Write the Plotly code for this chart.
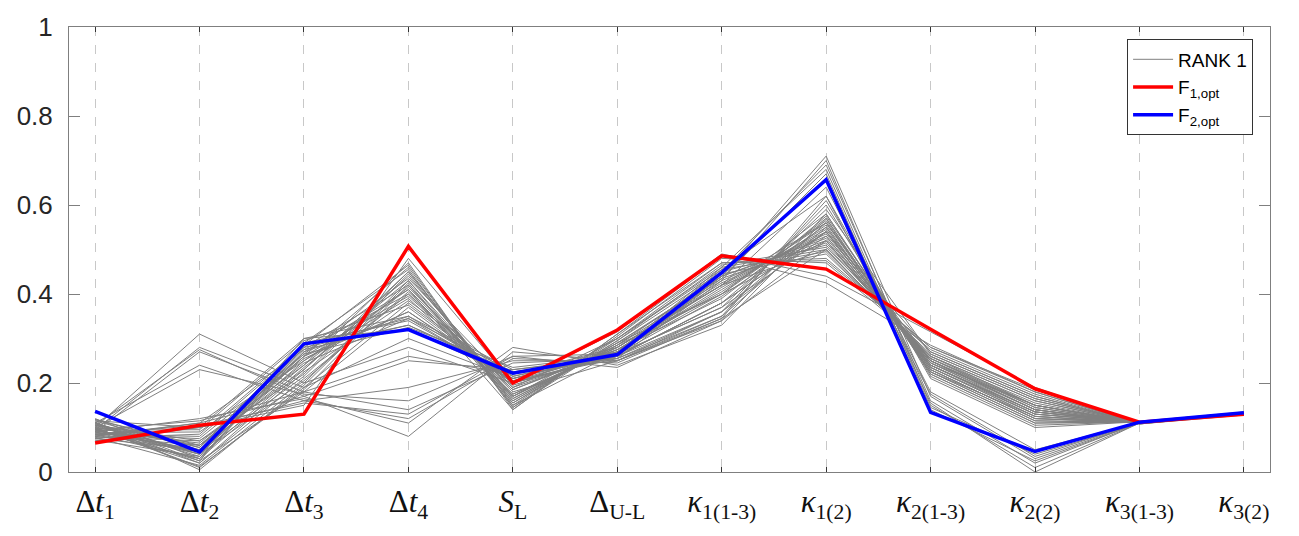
import plotly.graph_objects as go

categories = ["Δ<i>t</i><sub>1</sub>", "Δ<i>t</i><sub>2</sub>", "Δ<i>t</i><sub>3</sub>", "Δ<i>t</i><sub>4</sub>",
              "<i>S</i><sub>L</sub>", "Δ<sub>U-L</sub>", "<i>κ</i><sub>1(1-3)</sub>", "<i>κ</i><sub>1(2)</sub>",
              "<i>κ</i><sub>2(1-3)</sub>", "<i>κ</i><sub>2(2)</sub>", "<i>κ</i><sub>3(1-3)</sub>", "<i>κ</i><sub>3(2)</sub>"]

f1_opt = [0.065, 0.105, 0.130, 0.507, 0.200, 0.319, 0.486, 0.456, 0.321, 0.187, 0.112, 0.130]
f2_opt = [0.136, 0.045, 0.288, 0.320, 0.222, 0.264, 0.448, 0.657, 0.134, 0.046, 0.112, 0.133]

rank1 = [
    [0.080, 0.060, 0.230, 0.440, 0.170, 0.280, 0.420, 0.560, 0.250, 0.140, 0.110, 0.131],
    [0.095, 0.040, 0.260, 0.460, 0.150, 0.270, 0.440, 0.520, 0.240, 0.130, 0.111, 0.130],
    [0.110, 0.020, 0.210, 0.400, 0.190, 0.300, 0.460, 0.500, 0.260, 0.160, 0.109, 0.132],
    [0.085, 0.080, 0.280, 0.420, 0.160, 0.290, 0.400, 0.580, 0.230, 0.120, 0.112, 0.129],
    [0.100, 0.010, 0.190, 0.380, 0.200, 0.260, 0.380, 0.540, 0.270, 0.170, 0.110, 0.133],
    [0.075, 0.050, 0.240, 0.470, 0.140, 0.310, 0.470, 0.480, 0.280, 0.180, 0.108, 0.128],
    [0.090, 0.030, 0.270, 0.410, 0.180, 0.250, 0.360, 0.600, 0.220, 0.110, 0.113, 0.134],
    [0.105, 0.070, 0.220, 0.450, 0.165, 0.285, 0.430, 0.530, 0.245, 0.150, 0.110, 0.131],
    [0.115, 0.100, 0.300, 0.350, 0.210, 0.270, 0.410, 0.550, 0.235, 0.125, 0.111, 0.130],
    [0.078, 0.015, 0.200, 0.430, 0.155, 0.295, 0.450, 0.510, 0.255, 0.155, 0.109, 0.132],
    [0.088, 0.090, 0.250, 0.390, 0.175, 0.275, 0.390, 0.570, 0.225, 0.115, 0.112, 0.133],
    [0.098, 0.025, 0.180, 0.370, 0.195, 0.265, 0.370, 0.590, 0.265, 0.165, 0.110, 0.129],
    [0.108, 0.055, 0.290, 0.455, 0.145, 0.305, 0.480, 0.470, 0.275, 0.175, 0.108, 0.131],
    [0.072, 0.035, 0.235, 0.415, 0.185, 0.280, 0.420, 0.540, 0.240, 0.135, 0.111, 0.130],
    [0.092, 0.065, 0.255, 0.360, 0.205, 0.255, 0.350, 0.610, 0.215, 0.105, 0.113, 0.134],
    [0.102, 0.045, 0.215, 0.445, 0.160, 0.290, 0.440, 0.525, 0.250, 0.145, 0.110, 0.132],
    [0.082, 0.110, 0.275, 0.400, 0.170, 0.285, 0.400, 0.565, 0.230, 0.120, 0.111, 0.131],
    [0.112, 0.005, 0.195, 0.425, 0.150, 0.300, 0.455, 0.495, 0.260, 0.160, 0.109, 0.130],
    [0.086, 0.075, 0.265, 0.435, 0.190, 0.270, 0.415, 0.545, 0.245, 0.140, 0.110, 0.133],
    [0.096, 0.020, 0.225, 0.385, 0.215, 0.260, 0.380, 0.575, 0.235, 0.130, 0.112, 0.129],
    [0.076, 0.085, 0.285, 0.465, 0.145, 0.295, 0.465, 0.505, 0.270, 0.170, 0.108, 0.132],
    [0.106, 0.040, 0.205, 0.405, 0.175, 0.280, 0.425, 0.535, 0.250, 0.150, 0.111, 0.131],
    [0.118, 0.060, 0.245, 0.345, 0.225, 0.250, 0.345, 0.620, 0.210, 0.100, 0.113, 0.135],
    [0.084, 0.030, 0.230, 0.450, 0.155, 0.290, 0.435, 0.515, 0.255, 0.145, 0.110, 0.130],
    [0.094, 0.095, 0.295, 0.375, 0.200, 0.265, 0.395, 0.555, 0.225, 0.125, 0.111, 0.132],
    [0.100, 0.012, 0.185, 0.420, 0.165, 0.285, 0.445, 0.490, 0.265, 0.165, 0.109, 0.131],
    [0.090, 0.050, 0.260, 0.395, 0.185, 0.275, 0.405, 0.560, 0.240, 0.135, 0.112, 0.133],
    [0.079, 0.070, 0.240, 0.430, 0.170, 0.300, 0.470, 0.475, 0.280, 0.185, 0.108, 0.130],
    [0.070, 0.100, 0.150, 0.480, 0.200, 0.315, 0.490, 0.440, 0.315, 0.190, 0.110, 0.130],
    [0.085, 0.045, 0.250, 0.410, 0.140, 0.310, 0.485, 0.425, 0.285, 0.180, 0.109, 0.131],
    [0.100, 0.310, 0.200, 0.280, 0.200, 0.260, 0.380, 0.540, 0.240, 0.130, 0.110, 0.131],
    [0.095, 0.280, 0.190, 0.300, 0.210, 0.270, 0.400, 0.520, 0.250, 0.140, 0.111, 0.130],
    [0.105, 0.275, 0.170, 0.250, 0.230, 0.260, 0.360, 0.560, 0.230, 0.120, 0.112, 0.132],
    [0.090, 0.270, 0.180, 0.260, 0.220, 0.280, 0.420, 0.500, 0.260, 0.150, 0.110, 0.131],
    [0.110, 0.240, 0.160, 0.190, 0.250, 0.250, 0.340, 0.580, 0.225, 0.115, 0.111, 0.133],
    [0.100, 0.230, 0.175, 0.160, 0.260, 0.265, 0.370, 0.530, 0.245, 0.135, 0.110, 0.130],
    [0.080, 0.110, 0.170, 0.080, 0.270, 0.250, 0.350, 0.550, 0.235, 0.125, 0.110, 0.131],
    [0.090, 0.120, 0.165, 0.110, 0.280, 0.240, 0.330, 0.570, 0.220, 0.110, 0.112, 0.132],
    [0.085, 0.105, 0.155, 0.130, 0.260, 0.235, 0.340, 0.520, 0.250, 0.140, 0.110, 0.130],
    [0.095, 0.115, 0.180, 0.140, 0.245, 0.255, 0.360, 0.540, 0.240, 0.135, 0.111, 0.131],
    [0.075, 0.100, 0.160, 0.120, 0.255, 0.245, 0.345, 0.500, 0.255, 0.150, 0.109, 0.133],
    [0.120, 0.030, 0.280, 0.330, 0.220, 0.260, 0.440, 0.710, 0.170, 0.030, 0.110, 0.132],
    [0.110, 0.040, 0.290, 0.340, 0.210, 0.265, 0.450, 0.690, 0.160, 0.020, 0.111, 0.131],
    [0.115, 0.050, 0.270, 0.350, 0.230, 0.255, 0.430, 0.700, 0.150, 0.010, 0.110, 0.133],
    [0.105, 0.035, 0.300, 0.320, 0.215, 0.270, 0.460, 0.680, 0.145, 0.040, 0.109, 0.130],
    [0.100, 0.060, 0.260, 0.360, 0.200, 0.275, 0.420, 0.640, 0.180, 0.050, 0.112, 0.131],
    [0.095, 0.045, 0.275, 0.330, 0.225, 0.260, 0.440, 0.660, 0.155, 0.000, 0.110, 0.132],
    [0.112, 0.025, 0.285, 0.345, 0.205, 0.268, 0.455, 0.620, 0.175, 0.035, 0.111, 0.130],
    [0.118, 0.055, 0.265, 0.325, 0.235, 0.262, 0.435, 0.670, 0.140, 0.025, 0.110, 0.131],
]

xpos = list(range(1, len(categories) + 1))
y_ticks = [0, 0.2, 0.4, 0.6, 0.8, 1]
y_labels = ["0", "0.2", "0.4", "0.6", "0.8", "1"]

fig = go.Figure()
for i, row in enumerate(rank1):
    fig.add_trace(go.Scatter(
        x=xpos, y=row, mode="lines", name="RANK 1",
        line=dict(color="#808080", width=1),
        legendgroup="rank1", showlegend=(i == 0), hoverinfo="skip"))

fig.add_trace(go.Scatter(x=xpos, y=f1_opt, mode="lines", name="F<sub>1,opt</sub>",
                         line=dict(color="#ff0000", width=3.5)))
fig.add_trace(go.Scatter(x=xpos, y=f2_opt, mode="lines", name="F<sub>2,opt</sub>",
                         line=dict(color="#0000ff", width=3.5)))

axis_color = "#7f7f7f"
fig.update_layout(
    width=1299, height=536,
    margin=dict(l=69, r=29, t=19, b=62),
    paper_bgcolor="white", plot_bgcolor="white",
    showlegend=True,
    legend=dict(
        x=0.881, y=0.972, xanchor="left", yanchor="top",
        bgcolor="white", bordercolor="#333333", borderwidth=1,
        font=dict(family="Liberation Sans, Arial, sans-serif", size=19, color="#000000"),
        tracegroupgap=0, itemwidth=40),
    xaxis=dict(
        range=[0.75, 12.25], tickmode="array", tickvals=xpos, ticktext=categories,
        showgrid=True, gridcolor="#c8c8c8", griddash="dash", gridwidth=1,
        showline=True, linecolor=axis_color, linewidth=1, mirror="ticks",
        ticks="inside", ticklen=5, tickcolor="#333333",
        ticklabelstandoff=2,
        tickfont=dict(family="Liberation Serif, DejaVu Serif, serif", size=31, color="#111111"),
        zeroline=False),
    yaxis=dict(
        range=[0, 1], tickmode="array", tickvals=y_ticks, ticktext=y_labels,
        showgrid=False, showline=True, linecolor=axis_color, linewidth=1, mirror="ticks",
        ticks="inside", ticklen=11, tickcolor=axis_color,
        ticklabelstandoff=10,
        tickfont=dict(family="Liberation Sans, Arial, sans-serif", size=26, color="#262626"),
        zeroline=False),
)

fig.write_html("out.html")
